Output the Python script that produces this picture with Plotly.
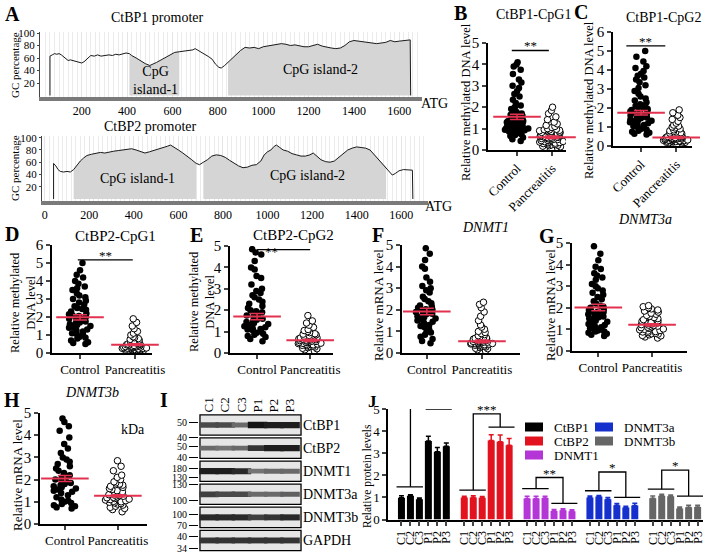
import plotly.graph_objects as go

W, H = 709, 558
FONT = 'Liberation Serif, Times New Roman, serif'
RED = '#e3324f'

# ---- A: GC percentage along the promoters (bp position, % GC) ----
ctbp1_pos = [60, 60, 70, 80, 90, 100, 110, 120, 130, 140,
             150, 160, 175, 190, 200, 210, 220, 230, 240, 255,
             270, 285, 300, 320, 335, 350, 365, 380, 395, 410,
             420, 440, 460, 480, 500, 515, 530, 550, 570, 590,
             610, 630, 650, 670, 690, 700, 715, 730, 745, 760,
             775, 790, 805, 815, 830, 845, 860, 880, 900, 920,
             940, 960, 980, 1000, 1020, 1040, 1060, 1080, 1100, 1120,
             1140, 1160, 1180, 1200, 1220, 1240, 1260, 1280, 1300, 1320,
             1340, 1360, 1380, 1400, 1420, 1440, 1460, 1480, 1500, 1520,
             1540, 1560, 1580, 1600, 1620, 1640, 1648, 1650]
ctbp1_gc = [0, 63, 65, 67, 66, 67, 65, 62, 59, 56,
            57, 56, 55, 54, 52, 54, 57, 61, 64, 63,
            65, 63, 64, 65, 64, 66, 65, 67, 68, 67,
            64, 60, 55, 51, 48, 50, 53, 57, 61, 66,
            69, 70, 71, 72, 73, 75, 72, 68, 65, 62,
            58, 50, 45, 44, 48, 53, 58, 66, 72, 77,
            76, 77, 75, 78, 79, 80, 82, 83, 82, 80,
            81, 79, 78, 78, 80, 82, 79, 77, 76, 75,
            76, 80, 86, 88, 87, 85, 84, 84, 83, 84,
            85, 88, 86, 87, 88, 89, 89, 0]
ctbp1_islands = [(410, 630), (845, 1648)]

ctbp2_pos = [40, 40, 50, 60, 70, 85, 100, 115, 130, 145,
             160, 175, 190, 210, 230, 250, 270, 290, 310, 330,
             350, 370, 390, 410, 430, 450, 470, 490, 510, 530,
             550, 565, 580, 600, 620, 640, 660, 680, 695, 712,
             730, 750, 770, 790, 810, 830, 850, 870, 890, 910,
             930, 950, 970, 985, 1000, 1015, 1030, 1040, 1055, 1070,
             1090, 1110, 1130, 1150, 1170, 1190, 1205, 1220, 1240, 1260,
             1280, 1300, 1320, 1340, 1360, 1380, 1400, 1420, 1440, 1460,
             1480, 1500, 1515, 1532, 1545, 1560, 1575, 1590, 1610, 1630,
             1650, 1652]
ctbp2_gc = [0, 58, 54, 48, 45, 44, 45, 44, 48, 55,
            62, 67, 71, 73, 75, 76, 75, 77, 78, 79,
            80, 81, 82, 80, 77, 75, 77, 79, 81, 83,
            86, 88, 84, 80, 75, 70, 64, 58, 56, 60,
            64, 70, 72, 71, 68, 63, 58, 54, 51, 52,
            55, 56, 62, 72, 77, 80, 86, 88, 84, 80,
            78, 74, 72, 70, 70, 72, 75, 70, 64, 61,
            60, 62, 68, 74, 80, 83, 85, 84, 83, 80,
            72, 64, 58, 52, 45, 39, 42, 46, 48, 47,
            47, 0]
ctbp2_islands = [(130, 680), (712, 1532)]

# ---- B-H: dot plots ----
groups = ['Control', 'Pancreatitis']

b_control = [0.42, 0.5, 0.58, 0.65, 0.7, 0.74, 0.78, 0.8, 0.83, 0.86, 0.88, 0.9, 0.92, 0.95, 0.97,
             1.0, 1.0, 1.02, 1.04, 1.06, 1.08, 1.1, 1.12, 1.14, 1.17, 1.2, 1.22, 1.25, 1.28, 1.3,
             1.32, 1.35, 1.38, 1.4, 1.44, 1.48, 1.52, 1.56, 1.6, 1.65, 1.7, 1.78, 1.85, 1.92, 2.0,
             2.08, 2.2, 2.35, 2.5, 2.62, 2.75, 2.9, 3.0, 3.15, 3.3, 3.55, 3.75, 3.9, 4.0, 4.1]
b_panc = [0.1, 0.12, 0.15, 0.18, 0.2, 0.22, 0.24, 0.26, 0.28, 0.3, 0.32, 0.34, 0.35, 0.37, 0.39,
          0.4, 0.42, 0.44, 0.45, 0.47, 0.49, 0.5, 0.52, 0.54, 0.55, 0.57, 0.59, 0.6, 0.62, 0.64,
          0.65, 0.67, 0.69, 0.7, 0.72, 0.74, 0.76, 0.78, 0.8, 0.82, 0.84, 0.86, 0.88, 0.9, 0.9,
          0.92, 0.94, 0.95, 0.97, 1.0, 1.05, 1.1, 1.15, 1.22, 1.3, 1.42, 1.55, 1.7, 1.85, 2.0]
b_mean, b_sem = [1.55, 0.6], [0.12, 0.06]

c_control = [0.6, 0.65, 0.7, 0.75, 0.8, 0.85, 0.9, 0.95, 1.0, 1.05, 1.1, 1.15, 1.2, 1.25, 1.3,
             1.33, 1.36, 1.4, 1.43, 1.46, 1.5, 1.53, 1.56, 1.6, 1.63, 1.66, 1.7, 1.74, 1.78, 1.82,
             1.86, 1.9, 1.95, 2.0, 2.05, 2.1, 2.15, 2.2, 2.3, 2.4, 2.5, 2.6, 2.75, 2.9, 3.05,
             3.2, 3.35, 3.5, 3.6, 3.7, 3.8, 3.95, 4.1, 4.2, 4.45, 4.7, 5.0]
c_panc = [0.15, 0.17, 0.19, 0.2, 0.21, 0.22, 0.23, 0.24, 0.25, 0.26, 0.27, 0.28, 0.29, 0.3, 0.31,
          0.32, 0.33, 0.34, 0.35, 0.36, 0.37, 0.38, 0.39, 0.4, 0.41, 0.42, 0.43, 0.44, 0.45, 0.46,
          0.48, 0.5, 0.52, 0.54, 0.56, 0.58, 0.6, 0.62, 0.65, 0.68, 0.7, 0.73, 0.76, 0.8, 0.85,
          0.9, 0.95, 1.0, 1.05, 1.1, 1.2, 1.3, 1.4, 1.5, 1.62, 1.75, 1.9]
c_mean, c_sem = [1.75, 0.45], [0.12, 0.05]

d_control = [0.5, 0.55, 0.6, 0.7, 0.8, 0.85, 0.9, 1.0, 1.05, 1.1, 1.2, 1.25, 1.3, 1.4, 1.45,
             1.5, 1.55, 1.6, 1.65, 1.7, 1.75, 1.8, 1.85, 1.9, 1.95, 2.0, 2.0, 2.05, 2.1, 2.15,
             2.2, 2.3, 2.4, 2.45, 2.5, 2.6, 2.7, 2.8, 2.9, 3.0, 3.1, 3.2, 3.3, 3.5, 3.6,
             3.7, 3.85, 4.0, 4.2, 4.35, 4.6, 5.0]
d_panc = [0.1, 0.12, 0.14, 0.15, 0.16, 0.18, 0.19, 0.2, 0.21, 0.22, 0.23, 0.24, 0.25, 0.26, 0.27,
          0.28, 0.29, 0.3, 0.31, 0.32, 0.33, 0.34, 0.35, 0.36, 0.37, 0.38, 0.4, 0.42, 0.44, 0.46,
          0.48, 0.5, 0.52, 0.55, 0.58, 0.6, 0.64, 0.68, 0.72, 0.76, 0.8, 0.85, 0.9, 1.0, 1.1,
          1.2, 1.35, 1.5, 1.7, 1.9]
d_mean, d_sem = [1.98, 0.46], [0.15, 0.05]

e_control = [0.55, 0.65, 0.75, 0.8, 0.85, 0.9, 0.95, 1.0, 1.05, 1.1, 1.12, 1.15, 1.2, 1.25, 1.3,
             1.35, 1.4, 1.45, 1.5, 1.55, 1.6, 1.65, 1.7, 1.75, 1.8, 1.85, 1.9, 1.95, 2.0, 2.1,
             2.2, 2.3, 2.4, 2.5, 2.6, 2.7, 2.8, 2.9, 3.0, 3.2, 3.5, 3.6, 3.9, 4.0, 4.3,
             4.6, 4.7, 4.85]
e_panc = [0.1, 0.15, 0.2, 0.22, 0.25, 0.28, 0.3, 0.32, 0.34, 0.36, 0.38, 0.4, 0.42, 0.44, 0.45,
          0.46, 0.48, 0.5, 0.5, 0.52, 0.54, 0.55, 0.56, 0.58, 0.6, 0.6, 0.62, 0.64, 0.65, 0.66,
          0.68, 0.7, 0.72, 0.74, 0.76, 0.78, 0.8, 0.82, 0.85, 0.88, 0.9, 0.95, 1.0, 1.05, 1.1,
          1.2, 1.3, 1.4, 1.5, 1.75]
e_mean, e_sem = [1.7, 0.59], [0.15, 0.05]

f_control = [0.45, 0.55, 0.65, 0.75, 0.85, 0.95, 1.0, 1.1, 1.2, 1.25, 1.3, 1.4, 1.45, 1.5, 1.55,
             1.6, 1.65, 1.7, 1.75, 1.8, 1.82, 1.85, 1.88, 1.9, 1.92, 1.95, 2.0, 2.02, 2.05, 2.1,
             2.15, 2.2, 2.3, 2.4, 2.5, 2.6, 2.8, 2.9, 3.0, 3.1, 3.3, 3.5, 3.9, 4.0, 4.3,
             4.6, 4.85]
f_panc = [0.1, 0.15, 0.2, 0.22, 0.25, 0.28, 0.3, 0.32, 0.34, 0.36, 0.38, 0.4, 0.41, 0.42, 0.43,
          0.44, 0.45, 0.46, 0.47, 0.48, 0.5, 0.5, 0.52, 0.54, 0.55, 0.56, 0.58, 0.6, 0.62, 0.64,
          0.66, 0.68, 0.7, 0.72, 0.75, 0.8, 0.85, 0.9, 0.95, 1.0, 1.1, 1.2, 1.3, 1.5, 1.7,
          1.9, 2.1, 2.25, 2.35]
f_mean, f_sem = [1.92, 0.54], [0.15, 0.06]

g_control = [0.7, 0.75, 0.8, 0.85, 0.9, 0.9, 0.95, 1.0, 1.0, 1.05, 1.1, 1.15, 1.2, 1.25, 1.3,
             1.35, 1.4, 1.5, 1.5, 1.55, 1.6, 1.6, 1.65, 1.7, 1.7, 1.75, 1.8, 1.8, 1.85, 1.9,
             1.95, 2.0, 2.05, 2.1, 2.2, 2.3, 2.4, 2.5, 2.6, 2.7, 2.8, 2.9, 3.0, 3.1, 3.3,
             3.4, 3.5, 3.6, 3.8, 3.9, 4.2, 4.5, 4.85]
g_panc = [0.6, 0.65, 0.7, 0.72, 0.75, 0.78, 0.8, 0.82, 0.85, 0.88, 0.9, 0.92, 0.95, 0.98, 1.0,
          1.02, 1.05, 1.08, 1.1, 1.12, 1.15, 1.18, 1.2, 1.22, 1.25, 1.28, 1.3, 1.32, 1.35, 1.38,
          1.4, 1.45, 1.5, 1.55, 1.6, 1.65, 1.7, 1.75, 1.8, 1.85, 1.9, 1.95, 2.0, 2.05, 2.1]
g_mean, g_sem = [2.01, 1.21], [0.15, 0.05]

h_control = [0.7, 0.75, 0.8, 0.85, 0.9, 0.95, 1.0, 1.05, 1.1, 1.2, 1.3, 1.4, 1.45, 1.5, 1.55,
             1.6, 1.65, 1.7, 1.75, 1.8, 1.85, 1.9, 1.95, 2.0, 2.05, 2.1, 2.2, 2.3, 2.4, 2.5,
             2.6, 2.7, 2.8, 2.9, 3.0, 3.2, 3.4, 3.6, 3.9, 4.2, 4.4, 4.6, 4.75]
h_panc = [0.55, 0.65, 0.7, 0.75, 0.8, 0.85, 0.9, 0.92, 0.95, 0.98, 1.0, 1.02, 1.05, 1.08, 1.1,
          1.12, 1.15, 1.18, 1.2, 1.22, 1.25, 1.28, 1.3, 1.32, 1.35, 1.4, 1.45, 1.5, 1.55, 1.6,
          1.65, 1.7, 1.75, 1.8, 1.85, 1.9, 2.0, 2.1, 2.2, 2.4, 2.6, 2.85]
h_mean, h_sem = [2.05, 1.27], [0.14, 0.05]

# significance bar heights and labels for B-H
sig_heights = [4.65, 5.27, 5.17, 4.83, 5.15, 5.39, 5.15]
sig_labels = ['**', '**', '**', '**', '**', '*', '*']

# ---- I: western blot ----
lanes = ['C1', 'C2', 'C3', 'P1', 'P2', 'P3']
blot_rows = ['CtBP1', 'CtBP2', 'DNMT1', 'DNMT3a', 'DNMT3b', 'GAPDH']
band_intensity = [
    [0.75, 0.75, 0.6, 1.0, 0.95, 0.95],
    [0.6, 0.55, 0.6, 0.85, 0.95, 0.95],
    [0.95, 0.95, 0.9, 0.55, 0.6, 0.6],
    [0.8, 0.75, 0.75, 0.6, 0.6, 0.65],
    [0.9, 0.9, 0.9, 0.8, 0.85, 0.9],
    [0.85, 0.85, 0.85, 0.85, 0.85, 0.85],
]
mw_labels = ['50', '40', '50', '40', '180', '130', '130', '100', '100', '70', '40', '34']
mw_row = [0, 0, 1, 1, 2, 2, 3, 3, 4, 4, 5, 5]
mw_offset = [-0.1, 0.52, -0.06, 0.42, -0.12, 0.28, -0.42, 0.25, -0.12, 0.36, -0.16, 0.35]

# ---- J: quantified protein levels ----
proteins = ['CtBP1', 'CtBP2', 'DNMT1', 'DNMT3a', 'DNMT3b']
bar_colors = ['#000000', '#e2131f', '#b536d6', '#1530cc', '#666666']
ctbp1_level = [0.98, 1.07, 0.92, 3.55, 3.06, 3.31]
ctbp1_err = [0.1, 0.05, 0.05, 0.22, 0.2, 0.15]
ctbp2_level = [0.99, 1.0, 0.98, 3.58, 3.52, 3.36]
ctbp2_err = [0.06, 0.07, 0.06, 0.25, 0.3, 0.3]
dnmt1_level = [0.95, 0.95, 0.97, 0.38, 0.42, 0.37]
dnmt1_err = [0.1, 0.1, 0.08, 0.07, 0.07, 0.07]
dnmt3a_level = [1.0, 1.04, 0.92, 0.64, 0.54, 0.63]
dnmt3a_err = [0.06, 0.05, 0.08, 0.08, 0.06, 0.1]
dnmt3b_level = [0.96, 1.08, 1.05, 0.5, 0.55, 0.57]
dnmt3b_err = [0.1, 0.06, 0.06, 0.06, 0.1, 0.08]
bracket_control = [1.48, 1.33, 1.4, 1.3, 1.37]
bracket_panc = [5.0, 4.18, 0.73, 1.0, 1.06]
bracket_top = [5.41, 4.78, 1.9, 2.15, 2.23]
bracket_stars = ['***', '***', '**', '*', '*']


fig = go.Figure()
axes = {}
annotations = []
shapes = []


def ref(kind, n):
    return kind if n == 1 else f'{kind}{n}'


def set_axes(n, left, right, top, bottom, xa, ya):
    xa['domain'] = [left / W, right / W]
    ya['domain'] = [1 - bottom / H, 1 - top / H]
    xa.setdefault('anchor', ref('y', n))
    ya.setdefault('anchor', ref('x', n))
    xa['automargin'] = False
    ya['automargin'] = False
    axes['xaxis' if n == 1 else f'xaxis{n}'] = xa
    axes['yaxis' if n == 1 else f'yaxis{n}'] = ya


def note(x, y, text, size=14, xanchor='center', **kw):
    annotations.append(dict(x=x / W, y=1 - y / H, xref='paper', yref='paper', text=text,
                            showarrow=False, xanchor=xanchor, yanchor='middle',
                            font=dict(family=FONT, size=size, color='black'), **kw))


def gc_panel(n, pos, gc, islands, frame, xrange, yrange):
    xr, yr = ref('x', n), ref('y', n)
    for start, end in islands:
        seg = [(p, g) for p, g in zip(pos, gc) if start <= p <= end and g > 0]
        fig.add_trace(go.Scatter(x=[p for p, _ in seg], y=[g for _, g in seg], mode='lines',
                                 fill='tozeroy', fillcolor='#d5d5d5', line=dict(width=0),
                                 xaxis=xr, yaxis=yr, hoverinfo='skip'))
    fig.add_trace(go.Scatter(x=pos, y=gc, mode='lines', line=dict(color='#1a1a1a', width=1),
                             xaxis=xr, yaxis=yr))
    xa = dict(range=xrange, tick0=0, dtick=200, showline=True, linecolor='#7a7a7a', linewidth=4,
              ticks='', showgrid=True, gridcolor='#e4e4e4', zeroline=False,
              minor=dict(dtick=20, showgrid=True, gridcolor='#ebebeb', gridwidth=1),
              tickfont=dict(size=12))
    ya = dict(range=yrange, tickvals=[20, 40, 60, 80, 100], showline=True, linecolor='#444',
              linewidth=1, ticks='outside', ticklen=2, tickcolor='#444', showgrid=False,
              zeroline=False, tickfont=dict(size=11))
    set_axes(n, *frame, xa, ya)


def dot_panel(n, control, panc, mean, sem, k, sig_span, frame, xrange, ymax, angle,
              star_x=None, star_on_line=False):
    xr, yr = ref('x', n), ref('y', n)
    unit = (frame[1] - frame[0]) / (xrange[1] - xrange[0])
    common = dict(boxpoints='all', jitter=1, pointpos=0, width=26 / unit, orientation='v',
                  fillcolor='rgba(0,0,0,0)', line=dict(width=0, color='rgba(0,0,0,0)'),
                  xaxis=xr, yaxis=yr)
    fig.add_trace(go.Box(x=[0] * len(control), y=control, marker=dict(color='black', size=6.5),
                         **common))
    fig.add_trace(go.Box(x=[1] * len(panc), y=panc,
                         marker=dict(color='white', size=6.5, line=dict(color='black', width=1)),
                         **common))
    fig.add_trace(go.Scatter(x=[0, 1], y=mean, mode='markers', cliponaxis=False,
                             marker=dict(symbol='line-ew', size=34, color=RED,
                                         line=dict(color=RED, width=2)),
                             error_y=dict(type='data', array=sem, color=RED, thickness=1.5, width=7),
                             xaxis=xr, yaxis=yr))
    h = sig_heights[k]
    fig.add_trace(go.Scatter(x=sig_span, y=[h, h], mode='lines', cliponaxis=False,
                             line=dict(color='black', width=1.3), xaxis=xr, yaxis=yr))
    annotations.append(dict(x=star_x if star_x is not None else sum(sig_span) / 2, y=h,
                            xref=xr, yref=yr, text=sig_labels[k], showarrow=False,
                            xanchor='center', yanchor='middle' if star_on_line else 'bottom',
                            yshift=-2 if star_on_line else -5,
                            font=dict(family=FONT, size=13)))
    xa = dict(range=xrange, tickmode='array', tickvals=[0, 1], ticktext=groups, tickangle=angle,
              showline=True, linecolor='black', linewidth=1.5, ticks='outside', ticklen=4,
              tickwidth=1.5, showgrid=False, zeroline=False, tickfont=dict(size=13))
    ya = dict(range=[0, ymax], dtick=1, showline=True, linecolor='black', linewidth=1.5,
              ticks='outside', ticklen=4, tickwidth=1.5, showgrid=False, zeroline=False,
              tickfont=dict(size=15))
    set_axes(n, *frame, xa, ya)


# A
gc_panel(1, ctbp1_pos, ctbp1_gc, ctbp1_islands, (40, 422, 32, 97), [16, 1700], [-2.4, 101.6])
gc_panel(2, ctbp2_pos, ctbp2_gc, ctbp2_islands, (42, 428, 136, 201), [-12, 1720], [-3.3, 102.8])

# B-H
dot_panel(3, b_control, b_panc, b_mean, b_sem, 0, [-0.15, 0.91], (488, 566, 43, 150), [-0.83, 1.4], 5, -45)
dot_panel(4, c_control, c_panc, c_mean, c_sem, 1, [-0.42, 0.69], (613, 692, 32, 146), [-0.8, 1.45], 6, -45)
dot_panel(5, d_control, d_panc, d_mean, d_sem, 2, [-0.04, 0.96], (52, 152, 245, 353), [-0.51, 1.31], 6, 0)
dot_panel(6, e_control, e_panc, e_mean, e_sem, 3, [0, 1], (230, 333, 246, 353), [-0.51, 1.43], 5, 0,
          star_x=0.28, star_on_line=True)
dot_panel(7, f_control, f_panc, f_mean, f_sem, 4, [0, 1], (402, 520, 245, 353), [-0.45, 1.69], 5, 0)
dot_panel(8, g_control, g_panc, g_mean, g_sem, 5, [0, 1], (572, 687, 243, 351), [-0.49, 1.65], 5, 0)
dot_panel(9, h_control, h_panc, h_mean, h_sem, 6, [0, 1], (40, 147, 413, 524), [-0.47, 1.55], 5, 0)

# I: blot boxes, bands and ladder
for r in range(len(blot_rows)):
    shapes.append(dict(type='rect', xref='x10', yref='y10', x0=-0.56, x1=5.68, y0=r - 0.44,
                       y1=r + 0.44, line=dict(color='black', width=1.3), fillcolor='#e6e6e6',
                       layer='below'))
    inten = band_intensity[r]
    fig.add_trace(go.Scatter(
        x=list(range(len(lanes))), y=[r] * len(lanes), mode='markers', xaxis='x10', yaxis='y10',
        marker=dict(symbol='line-ew', size=14,
                    line=dict(width=[2.5 + 4 * v for v in inten],
                              color=[f'rgb({int(235 - 215 * v)},{int(235 - 215 * v)},{int(235 - 215 * v)})'
                                     for v in inten]))))
fig.add_trace(go.Scatter(x=[2.5] * len(blot_rows), y=list(range(len(blot_rows))), mode='markers',
                         marker=dict(opacity=0), xaxis='x10', yaxis='y12', hoverinfo='skip'))
set_axes(10, 199, 302, 413.5, 552,
         dict(range=[-0.62, 5.74], side='top', tickmode='array', tickvals=list(range(6)),
              ticktext=lanes, tickangle=-90, ticks='', showline=False, showgrid=False,
              zeroline=False, tickfont=dict(size=13)),
         dict(range=[5.5, -0.5], tickmode='array',
              tickvals=[r + o for r, o in zip(mw_row, mw_offset)], ticktext=mw_labels,
              ticks='outside', ticklen=9, tickcolor='black', tickwidth=1, showline=False,
              showgrid=False, zeroline=False, tickfont=dict(size=10)))
axes['yaxis12'] = dict(overlaying='y10', side='right', anchor='x10', range=[5.5, -0.5],
                       tickmode='array', tickvals=list(range(6)), ticktext=blot_rows, ticks='',
                       showline=False, showgrid=False, zeroline=False, automargin=False,
                       tickfont=dict(size=14))

# J
levels = [ctbp1_level, ctbp2_level, dnmt1_level, dnmt3a_level, dnmt3b_level]
errors = [ctbp1_err, ctbp2_err, dnmt1_err, dnmt3a_err, dnmt3b_err]
bar_pos = []
for g, (name, lv, er, col) in enumerate(zip(proteins, levels, errors, bar_colors)):
    xs = [g * 7 + i for i in range(len(lanes))]
    bar_pos += xs
    fig.add_trace(go.Bar(x=xs, y=lv, width=0.78, name=name, marker=dict(color=col, line=dict(width=0)),
                         error_y=dict(type='data', symmetric=False, array=er, arrayminus=[0] * 6,
                                      color=col, thickness=1.5, width=2.5),
                         xaxis='x11', yaxis='y11'))
    lo, hi, top = bracket_control[g], bracket_panc[g], bracket_top[g]
    c0, p0 = g * 7, g * 7 + 3
    fig.add_trace(go.Scatter(
        x=[c0 - 0.55, c0 + 2.4, None, c0 + 1, c0 + 1, p0 + 1, p0 + 1, None, p0 - 0.3, p0 + 2.6],
        y=[lo, lo, None, lo, top, top, hi, None, hi, hi], mode='lines', cliponaxis=False,
        line=dict(color='black', width=1.3), xaxis='x11', yaxis='y11'))
    annotations.append(dict(x=c0 + 2.5, y=top, xref='x11', yref='y11', text=bracket_stars[g],
                            showarrow=False, xanchor='center', yanchor='bottom', yshift=-5,
                            font=dict(family=FONT, size=13)))
set_axes(11, 388, 703, 409, 519.5,
         dict(range=[-1.5, 33.6], tickmode='array', tickvals=bar_pos, ticktext=lanes * 5,
              tickangle=-90, showline=True, linecolor='black', linewidth=1.5, ticks='outside',
              ticklen=5, tickwidth=2, showgrid=False, zeroline=False, tickfont=dict(size=12)),
         dict(range=[0, 5], dtick=1, showline=True, linecolor='black', linewidth=1.5,
              ticks='outside', ticklen=4, tickwidth=1.5, showgrid=False, zeroline=False,
              tickfont=dict(size=13)))

# J legend (two columns of colour keys)
legend_slots = [(525, 427), (525, 441), (525, 455), (595, 427), (595, 441)]
for name, col, (lx, ly) in zip(proteins, bar_colors, legend_slots):
    shapes.append(dict(type='rect', xref='paper', yref='paper', x0=lx / W, x1=(lx + 18) / W,
                       y0=1 - (ly + 4.5) / H, y1=1 - (ly - 4.5) / H, fillcolor=col,
                       line=dict(width=0)))
    note(lx + 27, ly, name, size=13, xanchor='left')

# texts
note(157, 18, 'CtBP1 promoter')
note(150, 127, 'CtBP2 promoter')
note(155, 80, 'CpG<br>island-1', size=14)
note(320, 70, 'CpG island-2', size=14)
note(137, 178, 'CpG island-1', size=14)
note(307, 175, 'CpG island-2', size=14)
note(434, 104, 'ATG', size=14)
note(438, 206, 'ATG', size=14)
note(15, 65, 'GC percentage', size=11, textangle=-90)
note(15, 168, 'GC percentage', size=11, textangle=-90)

note(533, 15, 'CtBP1-CpG1')
note(663, 17, 'CtBP1-CpG2')
note(115, 236, 'CtBP2-CpG1', size=15)
note(293, 235, 'CtBP2-CpG2', size=15)
note(485, 227, '<i>DNMT1</i>')
note(645, 220, '<i>DNMT3a</i>')
note(92, 392, '<i>DNMT3b</i>')
note(133, 430, 'kDa')

note(466, 102, 'Relative methylated DNA level', size=12.5, textangle=-90)
note(589, 100, 'Relative methylated DNA level', size=12.5, textangle=-90)
note(23, 303, 'Relative methylated<br>DNA level', size=12.5, textangle=-90)
note(202, 302, 'Relative methylated<br>DNA level', size=12.5, textangle=-90)
note(378, 305, 'Relative mRNA level', size=13, textangle=-90)
note(550, 305, 'Relative mRNA level', size=13, textangle=-90)
note(17, 475, 'Relative mRNA level', size=13, textangle=-90)
note(368, 476, 'Relative protein levels', size=11.5, textangle=-90)

for letter, lx, ly in [('A', 12, 14), ('B', 460, 13), ('C', 581, 12), ('D', 12, 234),
                       ('E', 196, 235), ('F', 378, 235), ('G', 547, 236), ('H', 12, 400),
                       ('I', 164, 400), ('J', 372, 401)]:
    note(lx, ly, f'<b>{letter}</b>', size=20 if letter != 'J' else 17)

fig.update_layout(width=W, height=H,
                  margin=dict(l=0, r=0, t=0, b=0, pad=0, autoexpand=False),
                  paper_bgcolor='white',
                  plot_bgcolor='rgba(0,0,0,0)', font=dict(family=FONT, size=14, color='black'),
                  showlegend=False, boxmode='overlay', barmode='overlay',
                  annotations=annotations, shapes=shapes, **axes)

# page body margin would push the figure off the window edges
fig.write_html('out.html', config={'displayModeBar': False},
               post_script="document.body.style.margin='0';")
